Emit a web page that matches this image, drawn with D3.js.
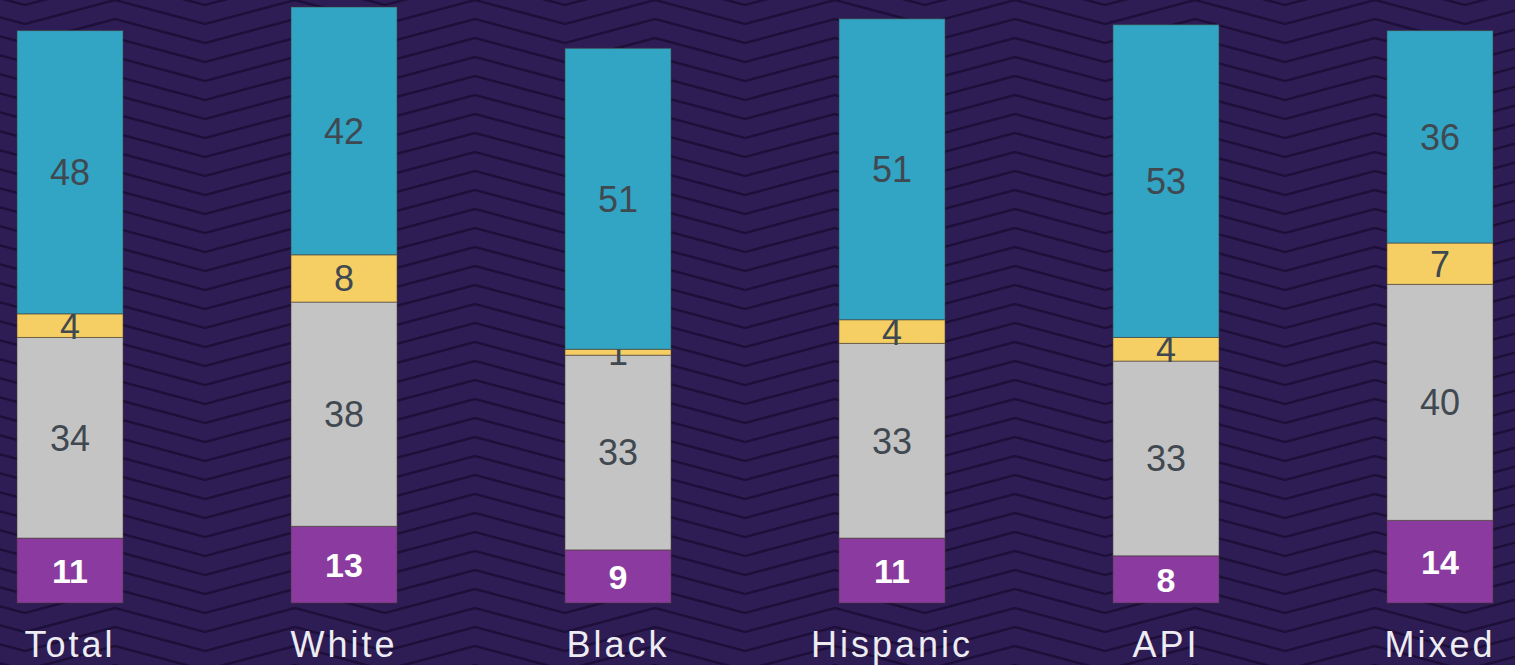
<!DOCTYPE html>
<html>
<head>
<meta charset="utf-8">
<script src="https://cdn.jsdelivr.net/npm/d3@7"></script>
<style>
  html, body { margin: 0; padding: 0; background: #2c1a52; }
  svg { display: block; font-family: "Liberation Sans", Arial, sans-serif; }
</style>
</head>
<body>
<div id="chart"></div>
<script>
// Chart values
var categories = ["Total", "White", "Black", "Hispanic", "API", "Mixed"];
var purpleVals = [11, 13, 9, 11, 8, 14];
var greyVals   = [34, 38, 33, 33, 33, 40];
var yellowVals = [4, 8, 1, 4, 4, 7];
var tealVals   = [48, 42, 51, 51, 53, 36];

var seriesKeys = ["purple", "grey", "yellow", "teal"];
var colors = { purple: "#8b3b9f", grey: "#c4c4c4", yellow: "#f6cf64", teal: "#32a4c4" };

var fullWidth = 1515, fullHeight = 665;

// Build rows for d3.stack
var rows = categories.map(function(c, i) {
    return { cat: c, purple: purpleVals[i], grey: greyVals[i], yellow: yellowVals[i], teal: tealVals[i] };
});
var stacked = d3.stack().keys(seriesKeys)(rows);

var svg = d3.select("#chart").append("svg")
    .attr("width", fullWidth)
    .attr("height", fullHeight);

// Zigzag background pattern
var defs = svg.append("defs");
var pat = defs.append("pattern")
    .attr("id", "zig")
    .attr("patternUnits", "userSpaceOnUse")
    .attr("width", 180)
    .attr("height", 19)
    .attr("patternTransform", "translate(25,0)");
[-38, -19, 0, 19, 38].forEach(function(off) {
    pat.append("path")
        .attr("d", "M-90," + (off) + " L0," + (off + 24) + " L90," + off + " L180," + (off + 24) + " L270," + off)
        .attr("fill", "none")
        .attr("stroke", "#1d0f3a")
        .attr("stroke-width", 2.6);
});
svg.append("rect").attr("width", fullWidth).attr("height", fullHeight).attr("fill", "#2e1c55");
svg.append("rect").attr("width", fullWidth).attr("height", fullHeight).attr("fill", "url(#zig)");

// Scales
var x = d3.scaleBand().domain(categories).range([17, 1493]).paddingInner(0.613).paddingOuter(0);
var y = d3.scaleLinear().domain([0, 101]).range([603, 7]);

// Bars
var layer = svg.selectAll(".layer")
    .data(stacked)
    .enter().append("g")
    .attr("class", "layer")
    .attr("fill", function(d) { return colors[d.key]; });

layer.selectAll("rect")
    .data(function(d) { return d; })
    .enter().append("rect")
    .attr("x", function(d) { return x(d.data.cat); })
    .attr("y", function(d) { return y(d[1]); })
    .attr("width", x.bandwidth())
    .attr("height", function(d) { return y(d[0]) - y(d[1]); })
    .attr("stroke", "rgba(70,60,50,0.55)")
    .attr("stroke-width", 1);

// Value labels inside segments
layer.each(function(s) {
    var isPurple = s.key === "purple";
    d3.select(this).selectAll("text")
        .data(s)
        .enter().append("text")
        .attr("x", function(d) { return x(d.data.cat) + x.bandwidth() / 2; })
        .attr("y", function(d) { return (y(d[0]) + y(d[1])) / 2; })
        .attr("dy", "0.36em")
        .attr("text-anchor", "middle")
        .attr("font-size", isPurple ? 34 : 36)
        .attr("font-weight", isPurple ? "bold" : "normal")
        .attr("fill", isPurple ? "#ffffff" : "#404850")
        .text(function(d) { return d[1] - d[0]; });
});

// Category labels
svg.append("g").selectAll("text")
    .data(categories)
    .enter().append("text")
    .attr("x", function(d) { return x(d) + x.bandwidth() / 2; })
    .attr("y", 657)
    .attr("text-anchor", "middle")
    .attr("font-size", 36)
    .attr("letter-spacing", 3)
    .attr("fill", "#ececf2")
    .text(function(d) { return d; });
</script>
</body>
</html>
